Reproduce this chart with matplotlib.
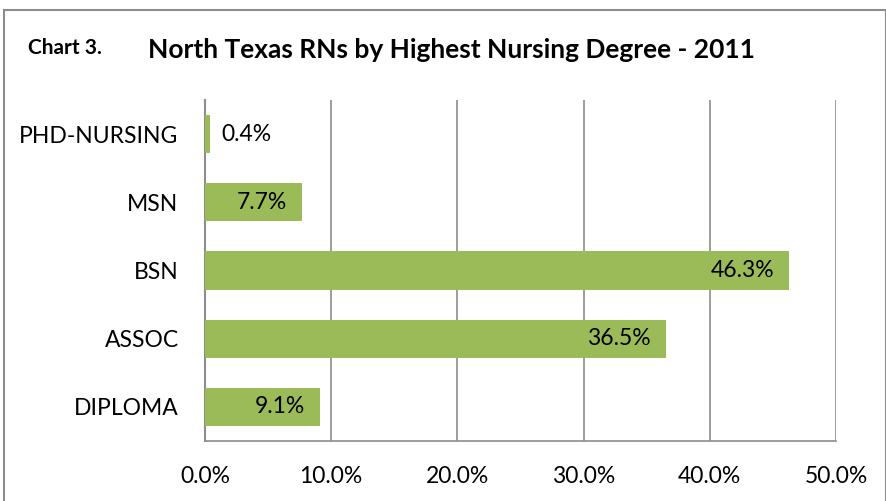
import matplotlib
matplotlib.use("Agg")
import matplotlib.pyplot as plt
from matplotlib.patches import Rectangle

plt.rcParams['font.family'] = ['Lato', 'DejaVu Sans']

# datos
categorias = ["DIPLOMA", "ASSOC", "BSN", "MSN", "PHD-NURSING"]
porcentajes = [9.1, 36.5, 46.3, 7.7, 0.4]
ticks_x = [0, 10, 20, 30, 40, 50]

verde = "#9BBB59"
gris = "#8C8C8C"

fig = plt.figure(figsize=(8.87, 5.01), dpi=100)
ax = fig.add_axes([0.2311, 0.1198, 0.7114, 0.6806])

pos = list(range(len(categorias)))
ax.barh(pos, porcentajes, height=0.56, color=verde, zorder=3)

for p, v in zip(pos, porcentajes):
    if v < 3:
        ax.text(v + 0.9, p, f"{v:.1f}%", va="center", ha="left", fontsize=16.5, color="black")
    else:
        ax.text(v - 1.2, p, f"{v:.1f}%", va="center", ha="right", fontsize=16.5, color="black")

ax.set_xlim(0, 50)
ax.set_ylim(-0.5, 4.5)
ax.set_xticks(ticks_x)
ax.set_xticklabels([f"{t:.1f}%" for t in ticks_x], fontsize=16.5)
ax.set_yticks(pos)
ax.set_yticklabels(categorias, fontsize=16.5)
ax.tick_params(axis="x", length=0, pad=18)
ax.tick_params(axis="y", length=0, pad=19)

ax.grid(axis="x", color=gris, linewidth=1.2, zorder=0)
for s in ["top", "right"]:
    ax.spines[s].set_visible(False)
ax.spines["left"].set_color(gris)
ax.spines["left"].set_linewidth(1.5)
ax.spines["bottom"].set_color(gris)
ax.spines["bottom"].set_linewidth(1.2)

# titulo
fig.text(28 / 887, 1 - 48 / 501, "Chart 3.", fontsize=15, fontweight="bold", va="center", ha="left")
fig.text(148 / 887, 1 - 50 / 501, "North Texas RNs by Highest Nursing Degree - 2011",
         fontsize=19, fontweight="bold", va="center", ha="left")

# marco
marco = Rectangle((4 / 887, -0.1), 882 / 887, 1.1 - 10 / 501, transform=fig.transFigure,
                  fill=False, edgecolor=gris, linewidth=1.5)
fig.patches.append(marco)

fig.savefig("out.png", dpi=100)
